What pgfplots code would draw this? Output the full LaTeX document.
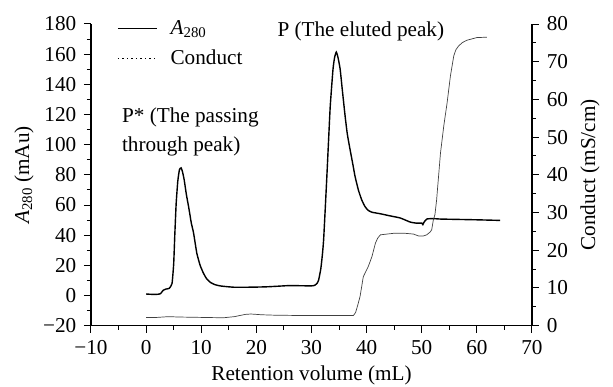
\documentclass[border=0pt]{standalone}
\usepackage{fontspec}
\setmainfont{Liberation Serif}
\usepackage{pgfplots}
\pgfplotsset{compat=1.18}
\begin{document}
\fontsize{21.2}{25}\selectfont
\begin{tikzpicture}
\begin{axis}[
  name=ax1,
  width=441pt, height=301.7pt, scale only axis,
  xmin=-10, xmax=70, ymin=-20, ymax=180,
  axis x line*=bottom, axis y line*=left,
  tick align=outside,
  xtick={-10,0,10,20,30,40,50,60,70},
  xticklabels={−10,0,10,20,30,40,50,60,70},
  ytick={-20,0,20,40,60,80,100,120,140,160,180},
  yticklabels={−20,0,20,40,60,80,100,120,140,160,180},
  minor x tick num=1, minor y tick num=1,
  major tick length=7pt, minor tick length=4pt,
  axis line style={line width=1.1pt, black},
  tick style={line width=1pt, black},
  xticklabel style={yshift=0pt},
  yticklabel style={xshift=-0.5pt},
  xlabel={Retention volume (mL)},
  ylabel={\textit{A}\textsubscript{280} (mAu)},
  xlabel style={at={(axis description cs:0.5,-0.1634)}, anchor=center},
  ylabel style={at={(axis description cs:-0.152,0.5)}, anchor=center},
  clip=false,
  legend cell align=left,
  legend style={draw=none, fill=none, at={(axis description cs:0,1)}, anchor=north west,
    xshift=23pt, yshift=8pt, row sep=8pt, column sep=11pt},
  legend image code/.code={\draw[#1] (0pt,0pt) -- (39pt,0pt);},
]
\coordinate (ll) at (rel axis cs:0,0);
\addplot[black, line width=1.4pt, smooth, tension=0.3] coordinates {
(0,1) (1,0.8) (2,0.8) (2.6,1.2) (3.1,3.5) (3.6,4.3) (4.2,4.8) (4.7,8) (5.0,21) (5.2,40)
(5.45,61) (5.75,76) (6.05,83.5) (6.35,84.6) (6.6,82) (6.9,76.8) (7.3,67) (7.7,59) (8.2,48)
(8.6,41.6) (9.2,28) (9.8,20) (10.4,14.8) (11.0,11) (11.7,8.6) (12.5,7.2) (13.4,6.4) (14.6,5.9)
(16,5.5) (18,5.5) (20,5.6) (22,5.8) (24,6.2) (26,6.6) (28,6.5) (30,6.4) (30.6,6.8) (31.0,8)
(31.3,10.4) (31.7,18) (32.0,28) (32.2,37) (32.5,58) (32.8,80) (33.1,103) (33.4,125.5) (33.9,150)
(34.2,158) (34.5,161.4) (34.8,158) (35.2,150) (35.6,136) (36.1,118.9) (36.5,107) (37.0,96.7)
(37.5,87) (37.9,79) (38.5,70) (39.1,63.5) (39.7,59) (40.3,56.4) (41,55.2) (42.5,54.2) (44,53)
(46.1,51.4) (47.9,48.7) (49.0,48) (50.0,48) (50.2,47) (50.4,48.5) (50.9,50.7) (52,51) (53.4,50.7)
(56,50.5) (60,50.2) (64.2,49.8)
};
\addlegendentry{\textit{A}\textsubscript{280}}
\addlegendimage{black, line width=1pt, dash pattern=on 1.5pt off 3pt}
\addlegendentry{Conduct}
\node[anchor=base west, inner sep=0pt] at (axis cs:-4.4,114.5) {P* (The passing};
\node[anchor=base west, inner sep=0pt] at (axis cs:-4.4,95.6) {through peak)};
\node[anchor=base west, inner sep=0pt] at (axis cs:23.8,171.6) {P (The eluted peak)};
\end{axis}
\begin{axis}[
  width=441pt, height=301.7pt, scale only axis,
  xmin=-10, xmax=70, ymin=0, ymax=80,
  axis y line*=right, axis x line=none,
  tick align=outside,
  ytick={0,10,20,30,40,50,60,70,80},
  minor y tick num=1,
  major tick length=7pt, minor tick length=4pt,
  axis line style={line width=1.1pt, black},
  tick style={line width=1pt, black},
  /pgf/number format/assume math mode=true,
  yticklabel style={xshift=0.5pt},
  ylabel={Conduct (mS/cm)},
  ylabel style={at={(axis description cs:1.1315,0.5)}, anchor=center, rotate=0},
  clip=false,
]
\addplot[black!75, line width=0.7pt] coordinates {
(0,2.2) (2,2.2) (4,2.4) (6,2.3) (10,2.2) (14,2.1) (16,2.4) (18,3.0) (19,3.1) (21,2.9) (23,2.8)
(28,2.7) (33,2.7) (37.6,2.7) (38.0,3.5) (38.4,5.5) (38.8,7.7) (39.4,13) (40.3,15.7) (40.96,18.3)
(41.6,21.9) (42.0,23.2) (42.5,24.1) (44.9,24.5) (47,24.5) (48.5,24.3) (49.4,23.8) (50.3,23.8)
(50.9,24.1) (51.5,24.8) (51.8,25.4) (52.1,28) (52.4,29.5) (52.7,33.4) (53.4,45.8) (54.0,53)
(54.6,59.1) (55.2,66.2) (55.8,71.5) (56.2,73.2) (56.7,74.2) (57.4,75.1) (58.2,75.7) (60,76.4)
(61.8,76.5)
};
\end{axis}
\pgfresetboundingbox
\path (ll) ++(-91pt,-60.3pt) rectangle ++(613pt,386pt);
\end{tikzpicture}
\end{document}
